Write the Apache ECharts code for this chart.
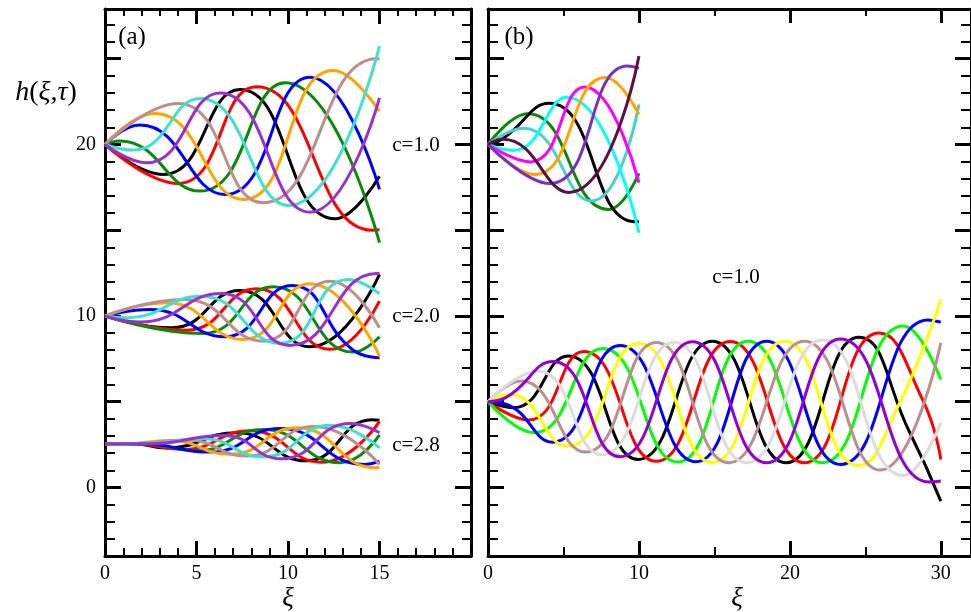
<!DOCTYPE html>
<html><head><meta charset="utf-8">
<script src="https://cdn.jsdelivr.net/npm/echarts@6.0.0/dist/echarts.min.js"></script>
<style>html,body{margin:0;padding:0;background:#fff}#c{width:971px;height:612px}</style>
</head><body><div id="c"></div>
<script>
// ---- tick / label positions ----
const yMajor = [0, 5, 10, 15, 20, 25];
const yMinor = [-3,-2,-1,1,2,3,4,6,7,8,9,11,12,13,14,16,17,18,19,21,22,23,24,26,27];
const yLabels = [0, 10, 20];
const xMajorA = [5, 10, 15];
const xMinorA = [1,2,3,4,6,7,8,9,11,12,13,14,16,17,18,19];
const xLabelsA = [0, 5, 10, 15];
const xMajorB = [10, 20, 30];
const xMinorB = [5, 15, 25];
const xLabelsB = [0, 10, 20, 30];

// ---- panel (a), c=1.0 ----
const colorsA = ['#000000','#ff0000','#0a8a0a','#0000ff','#ffa500','#bc8f8f','#40e0d0','#9932cc'];
const a1Black  = [[0,20],[3.19,18.25],[7.38,23.2],[12.57,15.67],[15,18.15]];
const a1Red    = [[0,20],[4.0,17.73],[8.29,23.36],[14.6,15.0],[15,15.02]];
const a1Green  = [[0,20],[0.8,20.2],[5.19,17.28],[9.84,23.6],[15,14.27]];
const a1Blue   = [[0,20],[1.91,21.13],[6.56,17.08],[11.2,23.92],[15,17.38]];
const a1Orange = [[0,20],[2.73,21.81],[7.56,16.79],[12.48,24.31],[15,21.94]];
const a1Rosy   = [[0,20],[4.0,22.39],[8.65,16.6],[14.85,25.0],[15,24.98]];
const a1Turq   = [[0,20],[1.55,19.67],[5.19,22.68],[10.02,16.44],[15,25.73]];
const a1Purple = [[0,20],[2.28,18.93],[6.28,23.0],[11.2,16.05],[15,22.72]];

// ---- panel (a), c=2.0 ----
const a2Black  = [[0,10],[3.64,9.31],[7.38,11.49],[11.2,8.2],[15,12.42]];
const a2Red    = [[0,10],[4.46,9.17],[8.29,11.58],[12.3,8.05],[15,10.86]];
const a2Green  = [[0,10],[5.37,8.98],[9.2,11.7],[13.57,7.89],[15,8.79]];
const a2Blue   = [[0,10],[2.46,10.38],[6.56,8.79],[10.2,11.78],[13.57,8.0],[15,7.56]];
const a2Orange = [[0,10],[3.37,10.77],[7.56,8.63],[11.2,11.88],[15,7.66]];
const a2Rosy   = [[0,10],[4.37,10.96],[8.65,8.53],[12.3,12.03],[15,9.31]];
const a2Turq   = [[0,10],[1.2,9.9],[5.28,11.15],[9.58,8.4],[13.3,12.13],[15,11.29]];
const a2Purple = [[0,10],[1.91,9.64],[6.37,11.31],[10.1,8.28],[14.85,12.48],[15,12.47]];

// ---- panel (a), c=2.8 ----
const a3Black  = [[0,2.55],[1.5,2.55],[3.37,2.3],[7.2,3.19],[11.0,1.55],[14.6,3.95],[15,3.92]];
const a3Red    = [[0,2.55],[1.5,2.55],[4.28,2.21],[7.92,3.3],[11.84,1.47],[15,3.85]];
const a3Green  = [[0,2.55],[2,2.55],[5.0,2.14],[8.65,3.37],[12.85,1.44],[15,3.06]];
const a3Blue   = [[0,2.55],[2,2.55],[5.74,2.06],[9.56,3.43],[14.2,1.34],[15,1.53]];
const a3Orange = [[0,2.55],[1,2.55],[3.55,2.73],[6.83,1.93],[10.5,3.48],[14.8,1.15],[15,1.15]];
const a3Rosy   = [[0,2.55],[1.5,2.55],[4.46,2.77],[7.74,1.83],[11.4,3.55],[15,1.34]];
const a3Turq   = [[0,2.55],[2,2.55],[5.37,2.84],[8.65,1.78],[12.3,3.62],[15,2.3]];
const a3Purple = [[0,2.55],[2.5,2.55],[6.47,3.03],[9.65,1.67],[13.4,3.73],[15,3.19]];

// ---- panel (b), upper group ----
const colorsB1 = ['#0a8a0a','#000000','#48d1cc','#00ffff','#ff00ff','#ffa500','#7b2fbe','#5c0f45'];
const b1Green   = [[0,20],[2.64,21.79],[7.98,16.21],[10,18.31]];
const b1Black   = [[0,20],[1.0,20.35],[4.06,22.4],[9.7,15.5],[10,15.5]];
const b1Turq    = [[0,20],[2.35,20.95],[6.85,16.7],[10,22.33]];
const b1Cyan    = [[0,20],[1.7,19.65],[5.2,22.75],[10,14.85]];
const b1Magenta = [[0,20],[2.8,18.98],[6.4,23.35],[10,17.77]];
const b1Orange  = [[0,20],[3.1,18.25],[7.77,23.9],[10,21.75]];
const b1Purple  = [[0,20],[4.1,17.72],[9.25,24.58],[10,24.45]];
const b1Maroon  = [[0,20],[1.0,20.3],[5.35,17.2],[10,25.15]];

// ---- panel (b), lower group ----
const colorsB2 = ['#000000','#ff0000','#00ff00','#0000ff','#ffff00','#bc8f8f','#dcdcdc','#9400d3'];
const b2Black  = [[0,5],[1.7,4.65],[5.3,7.67],[9.95,1.63],[14.86,8.53],[19.76,1.44],[24.56,8.75],[27.95,3.19],[30,-0.8]];
const b2Red    = [[0,5],[2.7,3.93],[6.35,7.92],[11.15,1.52],[16.05,8.51],[20.96,1.44],[25.9,9.0],[28.8,5.1],[30,1.63]];
const b2Green  = [[0,5],[3.07,3.19],[7.6,8.1],[12.57,1.48],[17.25,8.53],[22.16,1.44],[27.51,9.41],[30,6.3]];
const b2Blue   = [[0,5],[1.2,4.85],[4.28,2.64],[8.75,8.28],[13.77,1.5],[18.46,8.53],[23.36,1.34],[29.14,9.77],[30,9.64]];
const b2Yellow = [[0,5],[1.46,5.42],[5.26,2.41],[10.0,8.4],[14.86,1.46],[19.66,8.53],[24.56,1.28],[27.1,4.6],[30,10.96]];
const b2Rosy   = [[0,5],[2.2,6.2],[6.46,2.06],[11.15,8.45],[15.95,1.44],[20.96,8.53],[25.98,1.01],[30,8.43]];
const b2Gray   = [[0,5],[3.3,6.78],[7.55,1.9],[12.35,8.47],[17.15,1.44],[22.16,8.59],[27.51,0.70],[30,3.77]];
const b2Purple = [[0,5],[1.2,5.25],[4.3,7.34],[8.75,1.79],[13.55,8.5],[18.46,1.44],[23.36,8.65],[29.25,0.31],[30,0.37]];

const groupA1 = [a1Black,a1Red,a1Green,a1Blue,a1Orange,a1Rosy,a1Turq,a1Purple];
const groupA2 = [a2Black,a2Red,a2Green,a2Blue,a2Orange,a2Rosy,a2Turq,a2Purple];
const groupA3 = [a3Black,a3Red,a3Green,a3Blue,a3Orange,a3Rosy,a3Turq,a3Purple];
const groupB1 = [b1Green,b1Black,b1Turq,b1Cyan,b1Magenta,b1Orange,b1Purple,b1Maroon];
const groupB2 = [b2Black,b2Red,b2Green,b2Blue,b2Yellow,b2Rosy,b2Gray,b2Purple];

const FONT = 'Liberation Serif';
const Y_MIN = -4, Y_MAX = 27.9;

function axis(kind, grid, pos, min, max, ticks, len, w, labels, showLine) {
  return {
    type: 'value', gridIndex: grid, position: pos, min: min, max: max,
    splitLine: { show: false },
    axisLine: { show: showLine, onZero: false, lineStyle: { color: '#000', width: 3 } },
    axisTick: { show: true, inside: true, length: len, customValues: ticks,
                lineStyle: { color: '#000', width: w } },
    axisLabel: labels ? { show: true, customValues: labels, fontFamily: FONT, fontSize: 20,
                          color: '#000', margin: kind === 'x' ? 8 : 9 } : { show: false }
  };
}

const xAxes = [
  axis('x', 0, 'bottom', 0, 20, xMajorA, 15, 3, xLabelsA, true),
  axis('x', 0, 'bottom', 0, 20, xMinorA, 8, 2, null, false),
  axis('x', 0, 'top', 0, 20, xMajorA, 15, 3, null, true),
  axis('x', 0, 'top', 0, 20, xMinorA, 7, 2, null, false),
  axis('x', 1, 'bottom', 0, 32, xMajorB, 15, 3, xLabelsB, true),
  axis('x', 1, 'bottom', 0, 32, xMinorB, 9, 2, null, false),
  axis('x', 1, 'top', 0, 32, xMajorB, 14, 3, null, true),
  axis('x', 1, 'top', 0, 32, xMinorB, 7, 2, null, false)
];
const yAxes = [
  axis('y', 0, 'left', Y_MIN, Y_MAX, yMajor, 16, 3, yLabels, true),
  axis('y', 0, 'left', Y_MIN, Y_MAX, yMinor, 10, 2, null, false),
  axis('y', 0, 'right', Y_MIN, Y_MAX, yMajor, 16, 3, null, true),
  axis('y', 0, 'right', Y_MIN, Y_MAX, yMinor, 9, 2, null, false),
  axis('y', 1, 'left', Y_MIN, Y_MAX, yMajor, 16, 3, null, true),
  axis('y', 1, 'left', Y_MIN, Y_MAX, yMinor, 10, 2, null, false),
  axis('y', 1, 'right', Y_MIN, Y_MAX, yMajor, 16, 3, null, true),
  axis('y', 1, 'right', Y_MIN, Y_MAX, yMinor, 10, 2, null, false)
];

function mk(curves, colors, xi, yi) {
  return curves.map(function (d, i) {
    return {
      type: 'line', xAxisIndex: xi, yAxisIndex: yi, data: d,
      smooth: 0.5, symbol: 'none', showSymbol: false, silent: true,
      lineStyle: { color: colors[i], width: 3 }, animation: false
    };
  });
}

const series = [].concat(
  mk(groupA1, colorsA, 0, 0),
  mk(groupA2, colorsA, 0, 0),
  mk(groupA3, colorsA, 0, 0),
  mk(groupB1, colorsB1, 4, 4),
  mk(groupB2, colorsB2, 4, 4)
);

function txt(x, y, text, size, italic) {
  return { type: 'text', x: x, y: y, z: 100, silent: true,
    style: { text: text, fill: '#000', align: 'center', verticalAlign: 'middle',
             font: (italic ? 'italic ' : '') + size + 'px "' + FONT + '"' } };
}

const hLabel = { type: 'text', x: 46, y: 93, z: 100, silent: true,
  style: { text: '{i|h}({i|ξ},{i|τ})', fill: '#000', align: 'center', verticalAlign: 'middle',
           font: '28px "' + FONT + '"',
           rich: { i: { fontStyle: 'italic', fontFamily: FONT, fontSize: 28, fill: '#000' } } } };

const chart = echarts.init(document.getElementById('c'), null, { renderer: 'canvas' });
chart.setOption({
  backgroundColor: '#fff',
  animation: false,
  grid: [
    { left: 105, right: 500, top: 9, bottom: 56, containLabel: false },
    { left: 488, right: -6, top: 9, bottom: 56, containLabel: false }
  ],
  xAxis: xAxes,
  yAxis: yAxes,
  series: series,
  graphic: [
    hLabel,
    txt(132, 37, '(a)', 25, false),
    txt(519, 37, '(b)', 25, false),
    txt(416, 145, 'c=1.0', 21, false),
    txt(416, 316, 'c=2.0', 21, false),
    txt(416, 445, 'c=2.8', 21, false),
    txt(736, 277, 'c=1.0', 21, false),
    txt(288, 599, 'ξ', 27, true),
    txt(737, 599, 'ξ', 27, true)
  ]
});
</script></body></html>
